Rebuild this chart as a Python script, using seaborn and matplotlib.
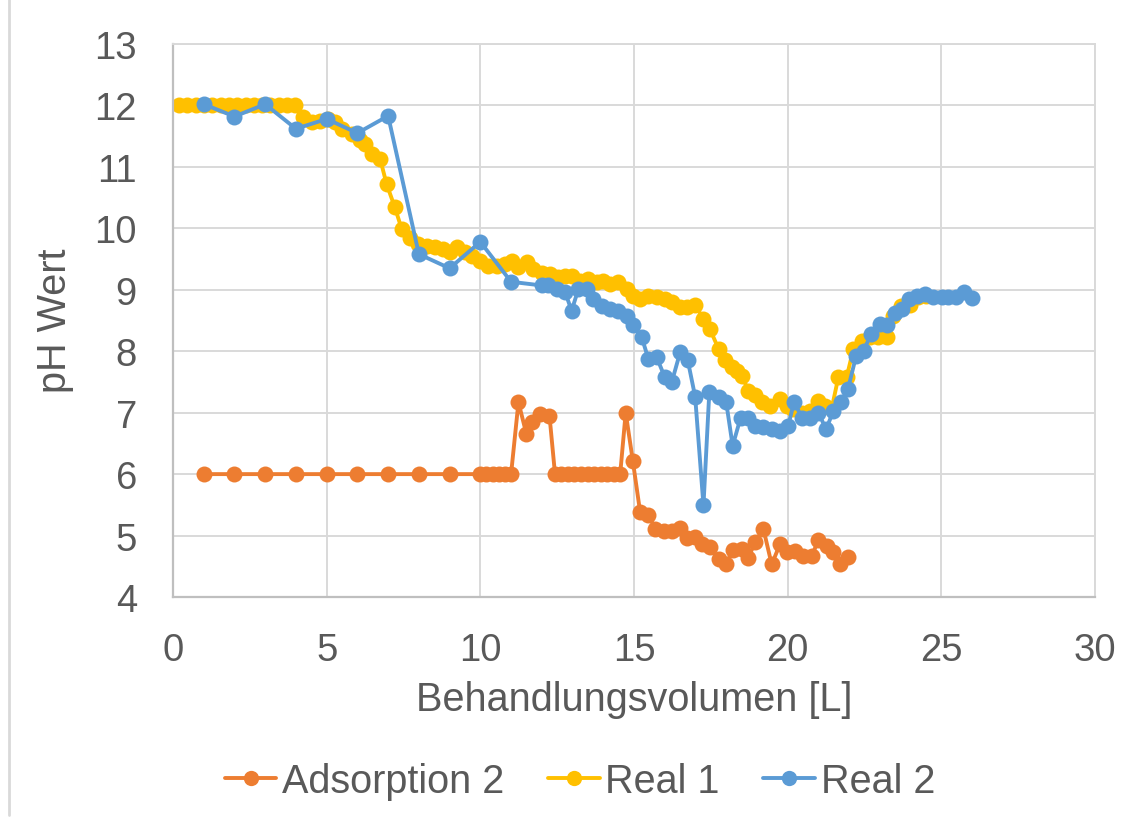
import numpy as np
import pandas as pd
import matplotlib
matplotlib.use("Agg")
import matplotlib.pyplot as plt
from matplotlib.lines import Line2D
import seaborn as sns

# --- data -----------------------------------------------------------------
series_names = ["Adsorption 2", "Real 1", "Real 2"]

ads2_x = [1, 2, 3, 4, 5, 6, 7, 8, 9, 10, 10.2, 10.4, 10.6, 10.8, 11.0,
          11.24, 11.5, 11.68, 11.94, 12.25,
          12.43, 12.64, 12.85, 13.06, 13.28, 13.49, 13.7, 13.91, 14.12, 14.34, 14.55,
          14.73, 14.96, 15.2, 15.47, 15.69, 15.96, 16.23, 16.5, 16.72, 16.99,
          17.2, 17.47, 17.75, 18.0, 18.21, 18.5, 18.72, 18.94, 19.21, 19.48,
          19.75, 19.97, 20.24, 20.51, 20.78, 21.0, 21.27, 21.49, 21.7, 21.97]
ads2_y = [6, 6, 6, 6, 6, 6, 6, 6, 6, 6, 6, 6, 6, 6, 6,
          7.17, 6.65, 6.84, 6.98, 6.95,
          6, 6, 6, 6, 6, 6, 6, 6, 6, 6, 6,
          7.0, 6.22, 5.38, 5.34, 5.11, 5.07, 5.07, 5.13, 4.96, 4.97,
          4.86, 4.81, 4.62, 4.54, 4.76, 4.78, 4.64, 4.89, 5.11, 4.53,
          4.86, 4.73, 4.75, 4.67, 4.67, 4.92, 4.83, 4.73, 4.53, 4.65]

real1_x = [0.2, 0.47, 0.74, 1.01, 1.28, 1.55, 1.82, 2.09, 2.36, 2.63, 2.9, 3.17, 3.44, 3.71, 3.98,
           4.24, 4.51, 4.78, 5.05, 5.27, 5.49, 5.82, 6.09, 6.25, 6.47, 6.74, 6.95, 7.22, 7.44,
           7.71, 7.98, 8.26, 8.53, 8.8, 9.01, 9.23, 9.5, 9.72, 9.99, 10.26, 10.53, 10.8,
           11.02, 11.24, 11.51, 11.72, 12.0, 12.27, 12.54, 12.76, 12.97, 13.24, 13.51,
           13.79, 14.0, 14.22, 14.49, 14.76, 14.98, 15.2, 15.47, 15.74, 16.01, 16.23,
           16.5, 16.72, 16.99, 17.26, 17.47, 17.75, 17.96, 18.18, 18.35, 18.51, 18.72,
           18.94, 19.16, 19.43, 19.75, 19.97, 20.18, 20.46, 20.73, 21.0, 21.22, 21.43,
           21.65, 21.92, 22.14, 22.41, 22.68, 22.95, 23.22, 23.44, 23.7, 23.98, 24.25, 24.5]
real1_y = [12, 12, 12, 12, 12, 12, 12, 12, 12, 12, 12, 12, 12, 12, 12,
           11.81, 11.73, 11.75, 11.78, 11.73, 11.62, 11.54, 11.43, 11.37, 11.21, 11.13, 10.72, 10.34, 9.99,
           9.85, 9.74, 9.72, 9.69, 9.66, 9.61, 9.69, 9.61, 9.55, 9.47, 9.39, 9.39, 9.42,
           9.47, 9.37, 9.45, 9.34, 9.28, 9.26, 9.2, 9.23, 9.23, 9.15, 9.18,
           9.12, 9.15, 9.09, 9.12, 9.01, 8.9, 8.85, 8.9, 8.88, 8.85, 8.8,
           8.72, 8.72, 8.76, 8.52, 8.36, 8.04, 7.85, 7.74, 7.68, 7.6, 7.36,
           7.28, 7.17, 7.11, 7.22, 7.11, 7.06, 7.0, 7.03, 7.19, 7.11, 7.06,
           7.58, 7.58, 8.04, 8.17, 8.23, 8.23, 8.23, 8.58, 8.74, 8.76, 8.88, 8.9]

real2_x = [1, 2, 3, 4, 5, 6, 7, 8, 9, 10, 11, 12, 12.21, 12.49, 12.76, 12.97, 13.19,
           13.46, 13.68, 13.95, 14.22, 14.49, 14.76, 14.98, 15.25, 15.47, 15.74, 16.0,
           16.23, 16.5, 16.75, 16.99, 17.26, 17.45, 17.75, 18.0, 18.21, 18.47, 18.72,
           18.94, 19.21, 19.48, 19.75, 20.02, 20.21, 20.46, 20.73, 21.0, 21.25, 21.49,
           21.73, 21.96, 22.23, 22.47, 22.72, 22.99, 23.23, 23.48, 23.71, 23.96, 24.2,
           24.47, 24.74, 25.01, 25.23, 25.48, 25.74, 26.0]
real2_y = [12.02, 11.82, 12.02, 11.62, 11.78, 11.55, 11.83, 9.58, 9.35, 9.78, 9.13, 9.07, 9.07, 9.01, 8.96, 8.66, 9.01,
           9.01, 8.85, 8.74, 8.69, 8.66, 8.58, 8.42, 8.23, 7.87, 7.9, 7.58,
           7.5, 7.98, 7.85, 7.26, 5.49, 7.33, 7.25, 7.17, 6.46, 6.92, 6.92,
           6.79, 6.76, 6.73, 6.7, 6.79, 7.18, 6.92, 6.92, 7.0, 6.73, 7.03,
           7.17, 7.38, 7.93, 8.01, 8.28, 8.44, 8.42, 8.63, 8.69, 8.85, 8.9,
           8.93, 8.88, 8.88, 8.88, 8.88, 8.96, 8.86]

x_ticks = [0, 5, 10, 15, 20, 25, 30]
y_ticks = [4, 5, 6, 7, 8, 9, 10, 11, 12, 13]

colors = ["#ED7D31", "#FFC000", "#5B9BD5"]

df = pd.concat([
    pd.DataFrame({"Volumen": ads2_x, "pH": ads2_y, "Serie": series_names[0]}),
    pd.DataFrame({"Volumen": real1_x, "pH": real1_y, "Serie": series_names[1]}),
    pd.DataFrame({"Volumen": real2_x, "pH": real2_y, "Serie": series_names[2]}),
], ignore_index=True)

# --- style ----------------------------------------------------------------
sns.set_style("white")
plt.rcParams["font.family"] = ["Liberation Sans", "DejaVu Sans"]
text_color = "#595959"
grid_color = "#D9D9D9"

fig = plt.figure(figsize=(11.35, 8.2), dpi=100)
ax = fig.add_axes([173 / 1135, 1 - 598 / 820, (1095 - 173) / 1135, (598 - 45) / 820])

sns.lineplot(data=df, x="Volumen", y="pH", hue="Serie", hue_order=series_names,
             palette=colors, estimator=None, sort=False, marker="o",
             markersize=11.5, markeredgewidth=0, linewidth=2.8, ax=ax, legend=False)

ax.set_xlim(0, 30)
ax.set_ylim(4, 13)
ax.set_xticks(x_ticks)
ax.set_yticks(y_ticks)
ax.grid(True, color=grid_color, linewidth=1.4)
ax.set_axisbelow(True)
for side in ["top", "right"]:
    ax.spines[side].set_color(grid_color)
    ax.spines[side].set_linewidth(1.4)
for side in ["left", "bottom"]:
    ax.spines[side].set_color("#BFBFBF")
    ax.spines[side].set_linewidth(1.6)

ax.tick_params(axis="both", length=0, labelsize=27.5, colors=text_color)
ax.tick_params(axis="x", pad=25)
ax.tick_params(axis="y", pad=26)

ax.set_xlabel("Behandlungsvolumen [L]", fontsize=28.5, color=text_color)
ax.set_ylabel("pH Wert", fontsize=28.5, color=text_color)
ax.xaxis.label.set_va("baseline")
ax.xaxis.set_label_coords(634 / 1135, 1 - 711 / 820, transform=fig.transFigure)
ax.yaxis.label.set_va("center")
ax.yaxis.set_label_coords(55 / 1135, 1 - 321 / 820, transform=fig.transFigure)

handles = [Line2D([0], [0], color=c, linewidth=2.8, marker="o", markersize=11,
                  markeredgewidth=0) for c in colors]
fig.legend(handles, series_names, loc="center", bbox_to_anchor=(580 / 1135, 1 - 782 / 820),
           ncol=3, frameon=False, fontsize=28.5, labelcolor=text_color,
           handlelength=1.3, handletextpad=0.15, columnspacing=1.1, borderpad=0)

# chart-area border on the left edge
fig.add_artist(Line2D([9 / 1135, 9 / 1135], [0.005, 1.0], transform=fig.transFigure,
                      color=grid_color, linewidth=2))

fig.savefig("out.png", dpi=100, facecolor="white")
